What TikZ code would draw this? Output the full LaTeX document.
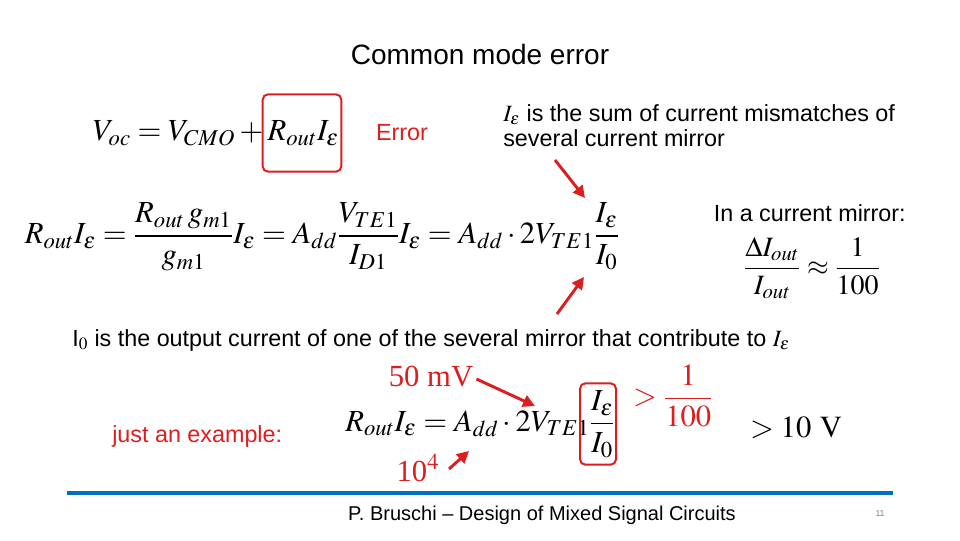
\documentclass[tikz,border=0pt]{standalone}
\usepackage{amsmath}
\usepackage{mathptmx}
\usepackage{fontspec}
\setmainfont{Liberation Sans}
\newfontfamily\tnr{Liberation Serif}
\usetikzlibrary{arrows.meta}
\definecolor{myred}{RGB}{220,30,30}
\definecolor{myblue}{RGB}{0,112,192}
\tikzset{txt/.style={font=\fontsize{17.5}{20}\selectfont,inner sep=0pt},
 eq/.style={font=\fontsize{23}{27}\selectfont,inner sep=0pt},
 redarr/.style={draw=myred,line width=2.2pt,-{Triangle[length=9pt,width=9pt]}},
 redbox/.style={draw=myred,line width=1.5pt,rounded corners=4pt}}
\begin{document}
\begin{tikzpicture}[x=0.75pt,y=-0.75pt]
\useasboundingbox (0,0) rectangle (960,540);
\node[txt,font=\fontsize{21}{24}\selectfont] (title) at (480,54) {Common mode error};
\node[eq] (eq1) at (216,133) {$V_{oc}=V_{CMO}+R_{out}I_{\varepsilon}$};
\node[redbox,minimum width=59pt,minimum height=58pt] (box1) at (302,133) {};
\node[txt,text=myred] (err) at (402,133) {Error};
\node[txt,align=left,anchor=north west] (sum) at (503,104) {$I_\varepsilon$ is the sum of current mismatches of\\[-1pt]several current mirror};
\node[eq] (eq2) at (322,237) {$R_{out}I_{\varepsilon}=\dfrac{R_{out}\,g_{m1}}{g_{m1}}I_{\varepsilon}=A_{dd}\dfrac{V_{TE1}}{I_{D1}}I_{\varepsilon}=A_{dd}\cdot 2V_{TE1}\dfrac{I_{\varepsilon}}{I_{0}}$};
\node[txt,anchor=east] (inmir) at (906,213) {In a current mirror:};
\node[eq,font=\fontsize{21}{25}\selectfont] (ratio) at (812,268) {$\dfrac{\Delta I_{out}}{I_{out}}\approx\dfrac{1}{100}$};
\coordinate (a1s) at (555,160); \coordinate (a1e) at (585,198);
\coordinate (a2s) at (557,314); \coordinate (a2e) at (584,277);
\draw[redarr] (a1s) -- (a1e);
\draw[redarr] (a2s) -- (a2e);
\node[txt,anchor=west] (i0) at (72,340) {I$_0$ is the output current of one of the several mirror that contribute to $I_\varepsilon$};
\node[txt,text=myred,anchor=west] (ex) at (112,436) {just an example:};
\node[eq] (eq3) at (480,424) {$R_{out}I_{\varepsilon}=A_{dd}\cdot 2V_{TE1}\dfrac{I_{\varepsilon}}{I_{0}}$};
\node[redbox,minimum width=27pt,minimum height=61pt] (box3) at (598,424) {};
\node[eq,text=myred] (gt) at (673,396) {$>\dfrac{1}{100}$};
\node[eq] (tenv) at (796,428) {$>10\ \mathrm{V}$};
\node[eq,text=myred] (mv) at (431,377) {\tnr 50 mV};
\node[eq,text=myred] (p4) at (418,468) {\tnr 10$^4$};
\coordinate (a3e) at (535,406); \coordinate (a4s) at (449,469); \coordinate (a4e) at (469,451);
\draw[redarr] (mv.east) ++(3,2) -- (a3e);
\draw[redarr] (a4s) -- (a4e);
\coordinate (l1) at (67,493); \coordinate (l2) at (893,493);
\draw[myblue,line width=3pt] (l1) -- (l2);
\node[txt,font=\fontsize{15}{18}\selectfont] (foot) at (542,515) {P. Bruschi -- Design of Mixed Signal Circuits};
\node[txt,font=\fontsize{6.5}{8}\selectfont,text=gray] (pg) at (880,514) {11};
\end{tikzpicture}
\end{document}
